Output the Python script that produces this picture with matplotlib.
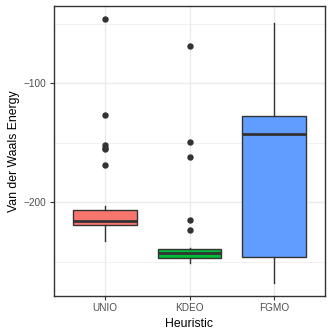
import matplotlib
matplotlib.use("Agg")
import matplotlib.pyplot as plt
from matplotlib.ticker import MultipleLocator

plt.rcParams['font.family'] = ['Liberation Sans', 'DejaVu Sans']

# summary statistics (Van der Waals energy)
heuristics = ['UNIO', 'KDEO', 'FGMO']
colors = ['#F8766D', '#00BA38', '#619CFF']
whislo = [-232.5, -250.7, -268.0]
q1 = [-219.0, -246.5, -246.2]
med = [-215.7, -242.8, -142.3]
q3 = [-206.7, -239.3, -127.2]
whishi = [-203.0, -238.5, -49.1]
fliers = [
    [-46.0, -126.4, -152.0, -154.0, -155.5, -168.4],
    [-68.7, -149.3, -162.0, -214.9, -223.0],
    [],
]

stats = []
for i, h in enumerate(heuristics):
    stats.append(dict(label=h, whislo=whislo[i], q1=q1[i], med=med[i],
                      q3=q3[i], whishi=whishi[i], fliers=fliers[i]))

fig = plt.figure(figsize=(3.32, 3.32), dpi=100)
ax = fig.add_axes([54 / 332, 1 - 296 / 332, (325 - 54) / 332, (296 - 6) / 332])

edge = '#333333'
bp = ax.bxp(stats, positions=[1, 2, 3], widths=0.75, patch_artist=True,
            boxprops=dict(edgecolor=edge, linewidth=1.0),
            medianprops=dict(color=edge, linewidth=2.0),
            whiskerprops=dict(color=edge, linewidth=1.0),
            capprops=dict(linewidth=0),
            flierprops=dict(marker='o', markerfacecolor=edge, markeredgecolor=edge,
                            markersize=3.6, linestyle='none'),
            zorder=3)
for patch, c in zip(bp['boxes'], colors):
    patch.set_facecolor(c)

ax.set_xlim(0.4, 3.6)
ax.set_ylim(-278.7, -35)
ax.yaxis.set_major_locator(MultipleLocator(100))
ax.yaxis.set_minor_locator(MultipleLocator(50))
ax.set_xticks([1, 2, 3])
ax.set_xticklabels(heuristics)

ax.grid(which='major', color='#EBEBEB', linewidth=1.0, zorder=0)
ax.grid(which='minor', axis='y', color='#EBEBEB', linewidth=0.5, zorder=0)
ax.set_axisbelow(True)
ax.tick_params(which='minor', length=0)
ax.tick_params(which='major', length=2.75, width=0.8, color=edge,
               labelsize=7.2, labelcolor='#4D4D4D', pad=2.5)
for s in ax.spines.values():
    s.set_color(edge)
    s.set_linewidth(1.0)

ax.set_xlabel('Heuristic', fontsize=8.8, color='black', labelpad=3.5)
ax.set_ylabel('Van der Waals Energy', fontsize=8.8, color='black', labelpad=3)

fig.savefig('out.png', dpi=100)
